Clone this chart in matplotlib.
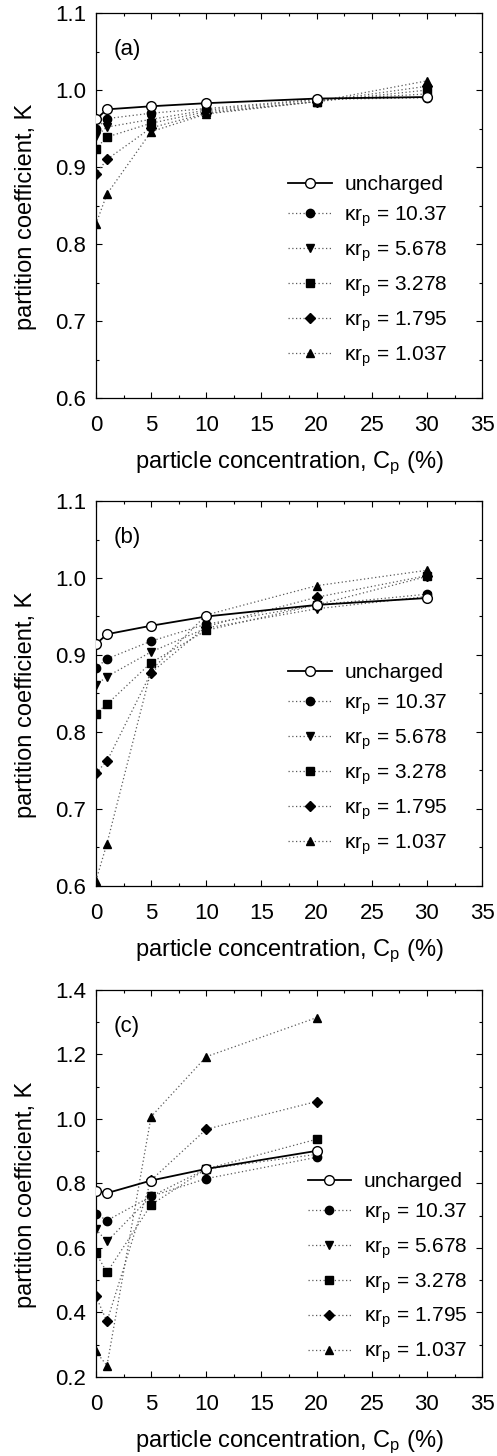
import matplotlib
matplotlib.use("Agg")
import matplotlib.pyplot as plt
from matplotlib.ticker import MultipleLocator, FormatStrFormatter

plt.rcParams['font.family'] = ['Liberation Sans', 'DejaVu Sans']
plt.rcParams['mathtext.default'] = 'regular'

# particle concentration (%)
conc_ab = [0, 1, 5, 10, 20, 30]
conc_c = [0, 1, 5, 10, 20]

series_labels = ['uncharged', 'κr$_p$ = 10.37', 'κr$_p$ = 5.678',
                 'κr$_p$ = 3.278', 'κr$_p$ = 1.795', 'κr$_p$ = 1.037']
markers = ['o', 'o', 'v', 's', 'D', '^']

# panel (a)
a_unch = [0.962, 0.975, 0.979, 0.983, 0.989, 0.991]
a_1037 = [0.949, 0.963, 0.970, 0.976, 0.988, 0.990]
a_5678 = [0.940, 0.952, 0.962, 0.974, 0.987, 0.995]
a_3278 = [0.924, 0.939, 0.957, 0.972, 0.985, 1.000]
a_1795 = [0.891, 0.910, 0.951, 0.970, 0.985, 1.005]
a_1037b = [0.826, 0.865, 0.946, 0.969, 0.985, 1.012]

# panel (b)
b_unch = [0.914, 0.927, 0.938, 0.950, 0.965, 0.974]
b_1037 = [0.883, 0.895, 0.918, 0.940, 0.965, 0.979]
b_5678 = [0.861, 0.872, 0.904, 0.935, 0.960, 0.976]
b_3278 = [0.824, 0.836, 0.890, 0.932, 0.965, 1.002]
b_1795 = [0.747, 0.762, 0.877, 0.937, 0.975, 1.003]
b_1037b = [0.607, 0.655, 0.880, 0.952, 0.990, 1.010]

# panel (c)
c_unch = [0.777, 0.770, 0.809, 0.845, 0.901]
c_1037 = [0.706, 0.685, 0.760, 0.815, 0.881]
c_5678 = [0.658, 0.620, 0.760, 0.845, 0.890]
c_3278 = [0.584, 0.524, 0.734, 0.845, 0.937]
c_1795 = [0.450, 0.372, 0.810, 0.968, 1.054]
c_1037b = [0.279, 0.235, 1.007, 1.193, 1.314]

panels = [
    ('(a)', conc_ab, [a_unch, a_1037, a_5678, a_3278, a_1795, a_1037b],
     (0.6, 1.1), 0.1, 0.05, [0.7266, 0.2644], (0.498, 0.579)),
    ('(b)', conc_ab, [b_unch, b_1037, b_5678, b_3278, b_1795, b_1037b],
     (0.6, 1.1), 0.1, 0.05, [0.3915, 0.2644], (0.498, 0.579)),
    ('(c)', conc_c, [c_unch, c_1037, c_5678, c_3278, c_1795, c_1037b],
     (0.2, 1.4), 0.2, 0.1, [0.0543, 0.2658], (0.548, 0.53)),
]

fig = plt.figure(figsize=(4.97, 14.56), dpi=100)

for tag, xs, ys, ylim, ymaj, ymin, (bot, h), leg_pos in panels:
    ax = fig.add_axes([0.193, bot, 0.777, h])
    for i, y in enumerate(ys):
        if i == 0:
            ax.plot(xs, y, '-', color='black', lw=1.3, marker='o', ms=7,
                    mfc='white', mec='black', mew=1.0, label=series_labels[i], zorder=5)
        else:
            ms = 5.5 if markers[i] == 'D' else 6
            ax.plot(xs, y, color='0.35', lw=0.9, ls=(0, (1, 2)), marker=markers[i],
                    ms=ms, mfc='black', mec='black', label=series_labels[i], zorder=4)
    ax.set_xlim(0, 35)
    ax.set_ylim(*ylim)
    ax.xaxis.set_major_locator(MultipleLocator(5))
    ax.xaxis.set_minor_locator(MultipleLocator(2.5))
    ax.yaxis.set_major_locator(MultipleLocator(ymaj))
    ax.yaxis.set_minor_locator(MultipleLocator(ymin))
    ax.yaxis.set_major_formatter(FormatStrFormatter('%.1f'))
    ax.tick_params(which='both', direction='in', top=True, right=True, labelsize=16)
    ax.tick_params(which='major', length=4, width=0.8, pad=7)
    ax.tick_params(axis='x', which='major', pad=12)
    ax.tick_params(which='minor', length=2.5, width=0.8)
    for s in ax.spines.values():
        s.set_linewidth(0.9)
    ax.set_xlabel('particle concentration, C$_p$ (%)', fontsize=17, labelpad=10)
    ax.set_ylabel('partition coefficient, K', fontsize=17)
    ax.yaxis.set_label_coords(-0.152, 0.47)
    ax.text(0.045, 0.905, tag, transform=ax.transAxes, fontsize=16, va='center')
    ax.legend(loc='upper left', bbox_to_anchor=leg_pos, frameon=False, fontsize=15,
              handlelength=2.1, handletextpad=0.6, labelspacing=0.5,
              borderaxespad=0, borderpad=0)

fig.savefig('out.png', dpi=100)
